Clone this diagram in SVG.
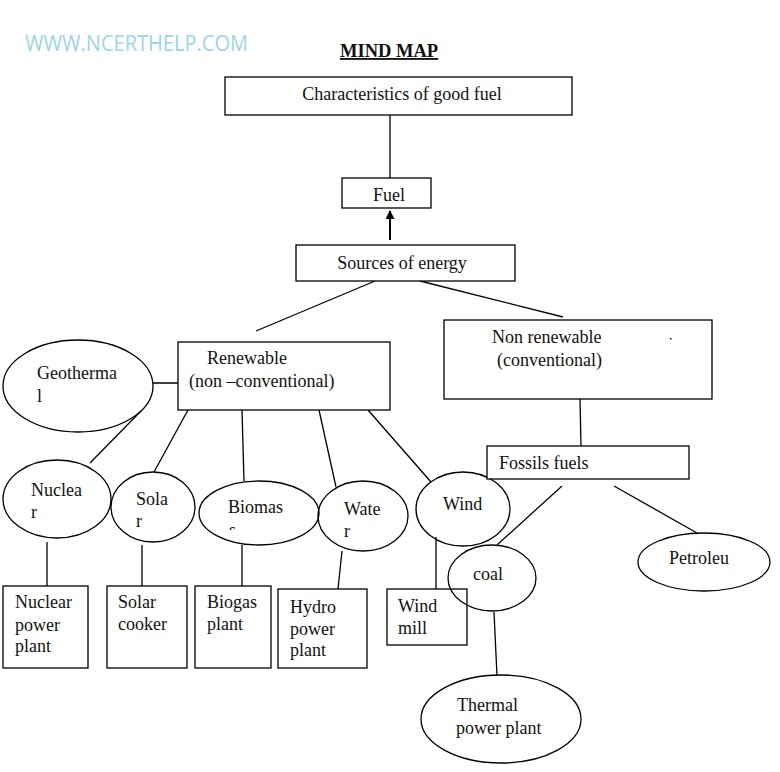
<svg xmlns="http://www.w3.org/2000/svg" width="780" height="772" viewBox="0 0 780 772">
<style>
text{font-family:"Liberation Serif","Times New Roman",serif;font-size:18px;fill:#111}
.b{fill:#fff;stroke:#000;stroke-width:1.3}
.e{fill:none;stroke:#000;stroke-width:1.3}
.c line{stroke:#000;stroke-width:1.3}
.wm{font-family:"Open Sans","Liberation Sans",sans-serif;font-size:21px;fill:#9dd4ea}
.t{font-weight:bold;font-size:18.5px;text-decoration:underline}
</style>
<defs>
<marker id="ah" viewBox="0 0 10 10" refX="9" refY="5" markerWidth="9" markerHeight="9" markerUnits="userSpaceOnUse" orient="auto">
<path d="M0,0 L10,5 L0,10 z" fill="#000"/>
</marker>
<clipPath id="bioClip"><rect x="220" y="500" width="40" height="30"/></clipPath>
</defs>
<rect width="780" height="772" fill="#fff"/>
<text class="wm" x="25" y="51" textLength="223" lengthAdjust="spacingAndGlyphs">WWW.NCERTHELP.COM</text>
<text class="t" x="340" y="57">MIND MAP</text>

<g class="c" id="connectors">
<line x1="390" y1="115" x2="390" y2="178"/>
<line x1="390" y1="240" x2="390" y2="211" marker-end="url(#ah)" style="stroke-width:2"/>
<line x1="375" y1="281" x2="256" y2="331"/>
<line x1="420" y1="281" x2="563" y2="317"/>
<line x1="153" y1="383" x2="187" y2="383"/>
<line x1="141" y1="411" x2="90" y2="463"/>
<line x1="188" y1="410" x2="154" y2="472"/>
<line x1="242" y1="410" x2="244" y2="481"/>
<line x1="319" y1="410" x2="336" y2="487"/>
<line x1="368" y1="410" x2="431" y2="482"/>
<line x1="47" y1="542" x2="47" y2="586"/>
<line x1="142" y1="545" x2="142" y2="586"/>
<line x1="242" y1="545" x2="242" y2="586"/>
<line x1="342" y1="551" x2="338" y2="589"/>
<line x1="436" y1="537" x2="436" y2="589"/>
<line x1="580" y1="399" x2="581" y2="446"/>
<line x1="562" y1="486" x2="497" y2="545"/>
<line x1="614" y1="486" x2="697" y2="533"/>
<line x1="494" y1="612" x2="497" y2="676"/>
</g>

<g id="characteristics">
<rect class="b" x="225" y="77" width="347" height="38"/>
<text x="402" y="100" text-anchor="middle">Characteristics of good fuel</text>
</g>
<g id="fuel">
<rect class="b" x="342" y="178" width="89" height="30"/>
<text x="389" y="201" text-anchor="middle">Fuel</text>
</g>
<g id="sources">
<rect class="b" x="296" y="245" width="219" height="36"/>
<text x="402" y="269" text-anchor="middle">Sources of energy</text>
</g>
<g id="renewable">
<rect class="b" x="178" y="342" width="212" height="68"/>
<text x="207" y="364">Renewable</text>
<text x="189" y="387">(non –conventional)</text>
</g>
<g id="nonrenewable">
<rect class="b" x="444" y="320" width="268" height="79"/>
<text x="492" y="343">Non renewable</text>
<text x="497" y="366">(conventional)</text>
<rect x="670" y="338" width="1.5" height="1.5" fill="#000"/>
</g>
<g id="geothermal">
<ellipse class="e" cx="78" cy="386" rx="75" ry="46"/>
<text x="37" y="379">Geotherma</text>
<text x="37" y="402">l</text>
</g>
<g id="nuclear">
<ellipse class="e" cx="57" cy="499" rx="54" ry="39"/>
<text x="31" y="496">Nuclea</text>
<text x="31" y="518">r</text>
</g>
<g id="solar">
<ellipse class="e" cx="153" cy="507" rx="42" ry="35"/>
<text x="136" y="505">Sola</text>
<text x="136" y="527">r</text>
</g>
<g id="biomass">
<ellipse class="e" cx="259" cy="513" rx="60" ry="32"/>
<text x="228" y="513">Biomas</text>
<text x="229" y="536" clip-path="url(#bioClip)">s</text>
</g>
<g id="water">
<ellipse class="e" cx="363" cy="516" rx="45" ry="35"/>
<text x="344" y="515">Wate</text>
<text x="344" y="537">r</text>
</g>
<g id="wind">
<ellipse class="e" cx="463" cy="509" rx="47" ry="37"/>
<text x="443" y="510">Wind</text>
</g>
<g id="nuclearplant">
<rect class="b" x="3" y="586" width="85" height="82"/>
<text x="15" y="608">Nuclear</text>
<text x="15" y="631">power</text>
<text x="15" y="652">plant</text>
</g>
<g id="solarcooker">
<rect class="b" x="107" y="586" width="80" height="82"/>
<text x="118" y="608">Solar</text>
<text x="118" y="630">cooker</text>
</g>
<g id="biogas">
<rect class="b" x="195" y="586" width="76" height="82"/>
<text x="207" y="608">Biogas</text>
<text x="207" y="630">plant</text>
</g>
<g id="hydro">
<rect class="b" x="278" y="589" width="89" height="79"/>
<text x="290" y="613">Hydro</text>
<text x="290" y="635">power</text>
<text x="290" y="656">plant</text>
</g>
<g id="windmill">
<rect class="b" x="387" y="589" width="80" height="56"/>
<text x="398" y="612">Wind</text>
<text x="398" y="634">mill</text>
</g>
<g id="fossils">
<rect class="b" x="487" y="446" width="202" height="33"/>
<text x="499" y="469">Fossils fuels</text>
</g>
<g id="coal">
<ellipse class="e" cx="492" cy="578" rx="44" ry="33"/>
<text x="473" y="580">coal</text>
</g>
<g id="petroleum">
<ellipse class="e" cx="704" cy="562" rx="66" ry="29"/>
<text x="669" y="564">Petroleu</text>
</g>
<g id="thermal">
<ellipse class="e" cx="501" cy="719" rx="80" ry="44"/>
<text x="457" y="711">Thermal</text>
<text x="456" y="734">power plant</text>
</g>
</svg>
